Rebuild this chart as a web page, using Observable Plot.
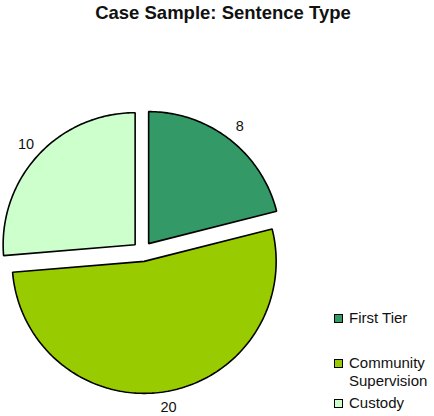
<!DOCTYPE html>
<html>
<head>
<meta charset="utf-8">
<script src="https://cdn.jsdelivr.net/npm/d3@7"></script>
<script src="https://cdn.jsdelivr.net/npm/@observablehq/plot@0.6"></script>
<style>
  html, body { margin: 0; padding: 0; background: #fff; }
  body { width: 434px; height: 416px; position: relative; overflow: hidden; font-family: "Liberation Sans", Arial, sans-serif; }
  #title { box-sizing: border-box; height: 28px; padding-top: 2px; line-height: 22px; font-size: 18.5px; font-weight: bold; color: #111; text-align: center; padding-left: 12px; }
  #legend { position: absolute; left: 334px; top: 0; font-size: 15px; color: #111; }
  .item { position: absolute; left: 0; white-space: nowrap; line-height: 18px; }
  .sw { position: absolute; left: 0; width: 7px; height: 7px; border: 1px solid #000; }
  .lab { position: absolute; left: 15px; top: 0; }
</style>
</head>
<body>
<div id="title">Case Sample: Sentence Type</div>
<div id="chart"></div>
<div id="legend"></div>
<script>
const categories = ["First Tier", "Community Supervision", "Custody"];
const values = [8, 20, 10];
const colors = ["#339966", "#99cc00", "#ccffcc"];
const legendLines = [["First Tier"], ["Community", "Supervision"], ["Custody"]];

const W = 434, H = 388;
const R = 132;             // pie radius in px (1 data unit)
const cx = 142, cy = 223;  // pie centre in svg px
const explode = 10 / R;
const labelR = 1.2;

const arcs = d3.pie().sort(null).value(d => d)(values);
const pts = [];
const labels = [];
arcs.forEach((a, i) => {
  const mid = (a.startAngle + a.endAngle) / 2;
  const ox = explode * Math.sin(mid), oy = explode * Math.cos(mid);
  pts.push({cat: categories[i], x: ox, y: oy});
  const n = Math.max(2, Math.ceil((a.endAngle - a.startAngle) / (Math.PI / 180)));
  for (let k = 0; k <= n; k++) {
    const t = a.startAngle + (a.endAngle - a.startAngle) * k / n;
    pts.push({cat: categories[i], x: ox + Math.sin(t), y: oy + Math.cos(t)});
  }
  labels.push({cat: categories[i], v: values[i], x: labelR * Math.sin(mid), y: labelR * Math.cos(mid)});
});

const plot = Plot.plot({
  width: W, height: H,
  margin: 0,
  style: {fontFamily: '"Liberation Sans", Arial, sans-serif', background: "#fff"},
  x: {domain: [-cx / R, (W - cx) / R], axis: null},
  y: {domain: [-(H - cy) / R, cy / R], axis: null},
  color: {domain: categories, range: colors},
  marks: [
    Plot.line(pts, {x: "x", y: "y", z: "cat", fill: "cat", stroke: "#000", strokeWidth: 1.6, curve: "linear-closed", strokeLinejoin: "miter"}),
    Plot.text(labels, {x: "x", y: "y", text: d => String(d.v), fontSize: 14.5, fill: "#111"})
  ]
});
document.getElementById("chart").appendChild(plot);

// Legend (HTML)
const legend = document.getElementById("legend");
const tops = [309, 354, 394];
const swTop = [5, 5, 5];
legendLines.forEach((lines, i) => {
  const item = document.createElement("div");
  item.className = "item";
  item.style.top = tops[i] + "px";
  const sw = document.createElement("div");
  sw.className = "sw";
  sw.style.background = colors[i];
  sw.style.top = swTop[i] + "px";
  const lab = document.createElement("div");
  lab.className = "lab";
  lab.innerHTML = lines.join("<br>");
  item.appendChild(sw);
  item.appendChild(lab);
  legend.appendChild(item);
});
</script>
</body>
</html>
